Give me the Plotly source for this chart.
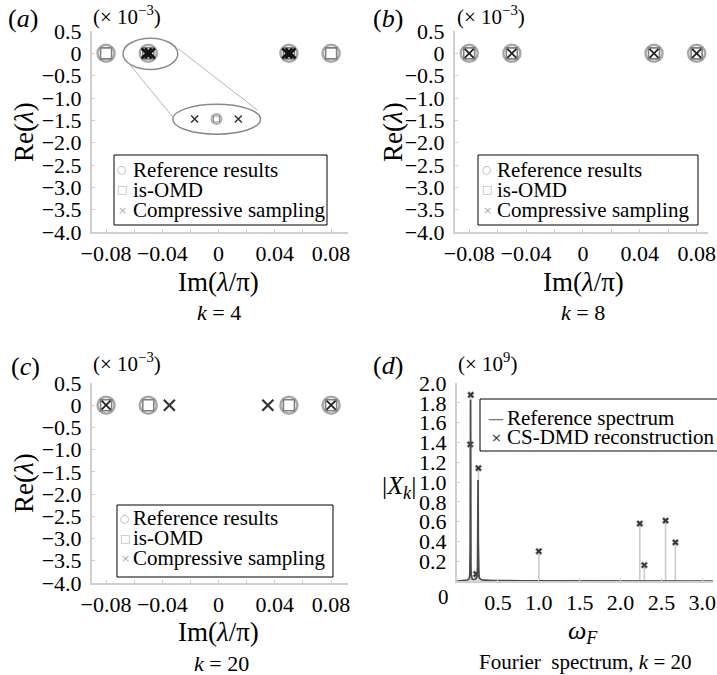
import plotly.graph_objects as go

W, H = 717, 675
SERIF = "Liberation Serif"

# ---------------- data ----------------
# eigenvalues: x = Im(lambda/pi), y = Re(lambda) (x 1e-3)
ref_im = [-0.08, -0.05, 0.05, 0.08]
ref_re = [0, 0, 0, 0]
omd_im = [-0.08, -0.05, 0.05, 0.08]
omd_re = [0, 0, 0, 0]
cs_a_im = [-0.0512, -0.0488, 0.0488, 0.0512]
cs_a_re = [0, 0, 0, 0]
inset_cs_im = [-0.017, 0.014]
inset_cs_re = [-1.47, -1.47]
inset_ref_im = [-0.0015]
inset_ref_re = [-1.47]
cs_b_im = [-0.08, -0.05, 0.05, 0.08]
cs_b_re = [0, 0, 0, 0]
cs_c_im = [-0.08, 0.08]
cs_c_re = [0, 0]
cs_c2_im = [-0.035, 0.035]
cs_c2_re = [0, 0]

# Fourier spectrum (x 1e9)
spec_w = [0.0, 0.10, 0.13, 0.145, 0.152, 0.157, 0.160, 0.162, 0.164, 0.165, 0.166, 0.168, 0.170,
          0.173, 0.178, 0.186, 0.20, 0.22, 0.238, 0.246, 0.251, 0.254, 0.256, 0.257, 0.258, 0.260,
          0.263, 0.268, 0.275, 0.29, 0.33, 0.45, 0.8, 3.13]
spec_x = [0.0, 0.004, 0.010, 0.020, 0.035, 0.07, 0.15, 0.40, 1.10, 1.83, 1.10, 0.40, 0.15,
          0.07, 0.035, 0.020, 0.015, 0.018, 0.03, 0.06, 0.15, 0.40, 0.80, 1.02, 0.80, 0.40,
          0.15, 0.06, 0.03, 0.015, 0.008, 0.004, 0.002, 0.0]
cs_w = [0.168, 0.162, 0.262, 0.235, 1.0, 2.235, 2.29, 2.55, 2.67]
cs_x = [1.88, 1.38, 1.14, 0.07, 0.30, 0.58, 0.16, 0.61, 0.39]

# tick labels
re_ticks = [0.5, 0, -0.5, -1.0, -1.5, -2.0, -2.5, -3.0, -3.5, -4.0]
re_text = ["0.5", "0", "\u22120.5", "\u22121.0", "\u22121.5", "\u22122.0", "\u22122.5",
           "\u22123.0", "\u22123.5", "\u22124.0"]
im_ticks = [-0.08, -0.04, 0, 0.04, 0.08]
im_text = ["\u22120.08", "\u22120.04", "0", "0.04", "0.08"]
xk_ticks = [0.2, 0.4, 0.6, 0.8, 1.0, 1.2, 1.4, 1.6, 1.8, 2.0]
xk_text = ["0.2", "0.4", "0.6", "0.8", "1.0", "1.2", "1.4", "1.6", "1.8", "2.0"]
w_ticks = [0.5, 1.0, 1.5, 2.0, 2.5, 3.0]
w_text = ["0.5", "1.0", "1.5", "2.0", "2.5", "3.0"]

legend_eig = ["Reference results", "is-OMD", "Compressive sampling"]
legend_spec = ["Reference spectrum", "CS-DMD reconstruction"]

# ---------------- helpers ----------------
def px(x):
    return x / W

def py(y):
    return 1 - y / H

AX_COLOR = "#cfcfcf"
TICK_FONT = dict(family=SERIF, size=22, color="black")

def xaxis(dom, rng, tv, tt, anchor, minor_dt=None):
    d = dict(domain=[px(dom[0]), px(dom[1])], range=rng, anchor=anchor, automargin=False,
             showline=True, linecolor=AX_COLOR, linewidth=2, showgrid=False, zeroline=False,
             ticks="inside", ticklen=3, tickcolor=AX_COLOR, tickwidth=1,
             tickmode="array", tickvals=tv, ticktext=tt, tickfont=TICK_FONT,
             ticklabelstandoff=1, fixedrange=True)
    if minor_dt:
        d["minor"] = dict(dtick=minor_dt, tick0=0, ticks="inside", ticklen=3,
                          tickcolor=AX_COLOR, showgrid=False)
    return d

def yaxis(dom, rng, tv, tt, anchor):
    return dict(domain=[py(dom[1]), py(dom[0])], range=rng, anchor=anchor, automargin=False,
                showline=True, linecolor=AX_COLOR, linewidth=2, showgrid=False, zeroline=False,
                ticks="inside", ticklen=3, tickcolor=AX_COLOR, tickwidth=1,
                tickmode="array", tickvals=tv, ticktext=tt, tickfont=TICK_FONT,
                ticklabelstandoff=4, fixedrange=True)

annotations = []
shapes = []

def ann(text, x, y, size=21, xanchor="center", yanchor="middle", angle=0, color="black",
        family=SERIF):
    annotations.append(dict(text=text, x=px(x), y=py(y), xref="paper", yref="paper",
                            xanchor=xanchor, yanchor=yanchor, showarrow=False,
                            textangle=angle, font=dict(family=family, size=size, color=color)))

def rect(x0, y0, x1, y1):
    shapes.append(dict(type="rect", xref="paper", yref="paper", x0=px(x0), x1=px(x1),
                       y0=py(y1), y1=py(y0), line=dict(color="black", width=1),
                       fillcolor="white", layer="above"))

fig = go.Figure()

REF_M = dict(symbol="circle-open", size=17, color="#a8a8a8", line=dict(width=2.5, color="#a8a8a8"))
OMD_M = dict(symbol="square-open", size=11, color="#808080", line=dict(width=1.6, color="#808080"))
CS_M = dict(symbol="x-thin-open", size=9, color="#222222", line=dict(width=1.8, color="#222222"))

def eig_panel(xa, ya, cs_sets):
    fig.add_trace(go.Scatter(x=ref_im, y=ref_re, mode="markers", marker=REF_M,
                             xaxis=xa, yaxis=ya, showlegend=False, name=legend_eig[0]))
    fig.add_trace(go.Scatter(x=omd_im, y=omd_re, mode="markers", marker=OMD_M,
                             xaxis=xa, yaxis=ya, showlegend=False, name=legend_eig[1]))
    for cx, cy, m in cs_sets:
        fig.add_trace(go.Scatter(x=cx, y=cy, mode="markers", marker=m,
                                 xaxis=xa, yaxis=ya, showlegend=False, name=legend_eig[2]))

# panel a
eig_panel("x", "y", [(cs_a_im, cs_a_re, dict(symbol="x-thin-open", size=10, color="#111",
                                              line=dict(width=2.6, color="#111")))])
fig.add_trace(go.Scatter(x=inset_ref_im, y=inset_ref_re, mode="markers",
                         marker=dict(symbol="circle-open", size=10, color="#b0b0b0",
                                     line=dict(width=2, color="#b0b0b0")),
                         xaxis="x", yaxis="y", showlegend=False))
fig.add_trace(go.Scatter(x=inset_ref_im, y=inset_ref_re, mode="markers",
                         marker=dict(symbol="square-open", size=6, color="#888",
                                     line=dict(width=1.2, color="#888")),
                         xaxis="x", yaxis="y", showlegend=False))
fig.add_trace(go.Scatter(x=inset_cs_im, y=inset_cs_re, mode="markers",
                         marker=dict(symbol="x-thin-open", size=7, color="#333",
                                     line=dict(width=1.5, color="#333")),
                         xaxis="x", yaxis="y", showlegend=False))
# panel b
eig_panel("x2", "y2", [(cs_b_im, cs_b_re, CS_M)])
# panel c
eig_panel("x3", "y3", [(cs_c_im, cs_c_re, CS_M),
                       (cs_c2_im, cs_c2_re, dict(symbol="x-thin-open", size=11, color="#333",
                                                 line=dict(width=2.2, color="#333")))])

# panel d
fig.add_trace(go.Scatter(x=cs_w, y=cs_x, mode="markers", xaxis="x4", yaxis="y4",
                         marker=dict(symbol="x", size=6, color="#333",
                                     line=dict(width=0.8, color="#aaaaaa")),
                         error_y=dict(type="data", symmetric=False, array=[0] * len(cs_x),
                                      arrayminus=cs_x, color="#cccccc", thickness=1.6, width=0),
                         showlegend=False, name=legend_spec[1]))
fig.add_trace(go.Scatter(x=spec_w, y=spec_x, mode="lines", xaxis="x4", yaxis="y4",
                         line=dict(color="#4a4a4a", width=1.7), showlegend=False,
                         name=legend_spec[0]))

# inset decorations in panel a
shapes.append(dict(type="circle", xref="x", yref="y", x0=-0.068, x1=-0.029, y0=-0.36, y1=0.34,
                   line=dict(color="#8a8a8a", width=1.5)))
shapes.append(dict(type="circle", xref="x", yref="y", x0=-0.0326, x1=0.0298, y0=-1.81, y1=-1.14,
                   line=dict(color="#8a8a8a", width=1.5)))
shapes.append(dict(type="line", xref="x", yref="y", x0=-0.0645, y0=-0.20, x1=-0.0319, y1=-1.45,
                   line=dict(color="#b5b5b5", width=1)))
shapes.append(dict(type="line", xref="x", yref="y", x0=-0.029, y0=0.11, x1=0.0276, y1=-1.27,
                   line=dict(color="#b5b5b5", width=1)))

# legends (a,b,c)
def eig_legend(x0, y0, x1, y1, sx, tx, rows):
    rect(x0, y0, x1, y1)
    syms = ["\u25cb", "\u25a1", "\u00d7"]
    for i, lab in enumerate(legend_eig):
        ann(syms[i], sx, rows[i], size=11, color="#b0b0b0", family="DejaVu Sans")
        ann(lab, tx, rows[i], size=21, xanchor="left")

eig_legend(114, 155, 327, 225, 122, 131, [170, 190, 210])
eig_legend(478, 155, 698, 225, 487, 495, [170, 190, 210])
eig_legend(117, 505, 333, 577, 125, 131, [518, 538, 558])

# legend d
rect(480, 399, 725, 451)
ann("\u2014", 496, 418, size=16, color="#777777", family="DejaVu Sans")
ann("\u00d7", 496, 437, size=13, color="#333333", family="DejaVu Sans")
ann(legend_spec[0], 505, 418, xanchor="left")
ann(legend_spec[1], 505, 437, xanchor="left")

# panel labels and scale factors
ann("(<i>a</i>)", 23, 19, size=26)
ann("(<i>b</i>)", 388, 19, size=26)
ann("(<i>c</i>)", 26, 366, size=26)
ann("(<i>d</i>)", 388, 365, size=26)
ann("(\u00d7 10<sup>\u22123</sup>)", 127, 16, size=21)
ann("(\u00d7 10<sup>\u22123</sup>)", 491, 16, size=21)
ann("(\u00d7 10<sup>\u22123</sup>)", 127, 362, size=21)
ann("(\u00d7 10<sup>9</sup>)", 487, 362, size=21)

# axis titles
for (x, y) in [(24, 132), (393, 132), (24, 483)]:
    ann("Re(<i>\u03bb</i>)", x, y, size=27, angle=-90)
for (x, y) in [(218, 282), (583, 282), (218, 632)]:
    ann("Im(<i>\u03bb</i>/\u03c0)", x, y, size=27)
ann("<i>k</i> = 4", 219, 312, size=22)
ann("<i>k</i> = 8", 583, 312, size=22)
ann("<i>k</i> = 20", 222, 663, size=22)
ann("|<i>X<sub>k</sub></i>|", 399, 487, size=26)
ann("<i>\u03c9<sub>F</sub></i>", 583, 632, size=26)
ann("Fourier  spectrum, <i>k</i> = 20", 585, 662, size=21)
ann("0", 443, 597, size=21)

fig.update_layout(
    width=W, height=H, margin=dict(l=0, r=0, t=0, b=0, autoexpand=False),
    paper_bgcolor="white", plot_bgcolor="white", showlegend=False,
    xaxis=xaxis((92, 348), [-0.09, 0.092], im_ticks, im_text, "y", 0.02),
    yaxis=yaxis((31, 232), [-4.0, 0.5], re_ticks, re_text, "x"),
    xaxis2=xaxis((455, 708), [-0.09, 0.088], im_ticks, im_text, "y2", 0.02),
    yaxis2=yaxis((31, 232), [-4.0, 0.5], re_ticks, re_text, "x2"),
    xaxis3=xaxis((92, 348), [-0.09, 0.092], im_ticks, im_text, "y3", 0.02),
    yaxis3=yaxis((383, 583), [-4.0, 0.5], re_ticks, re_text, "x3"),
    xaxis4=xaxis((457, 713), [0, 3.13], w_ticks, w_text, "y4"),
    yaxis4=yaxis((383, 581), [0, 2.0], xk_ticks, xk_text, "x4"),
    annotations=annotations, shapes=shapes,
    font=dict(family=SERIF),
)

fig.write_html("out.html", config={"displayModeBar": False},
               post_script="document.body.style.margin='0';document.body.style.overflow='hidden';")
